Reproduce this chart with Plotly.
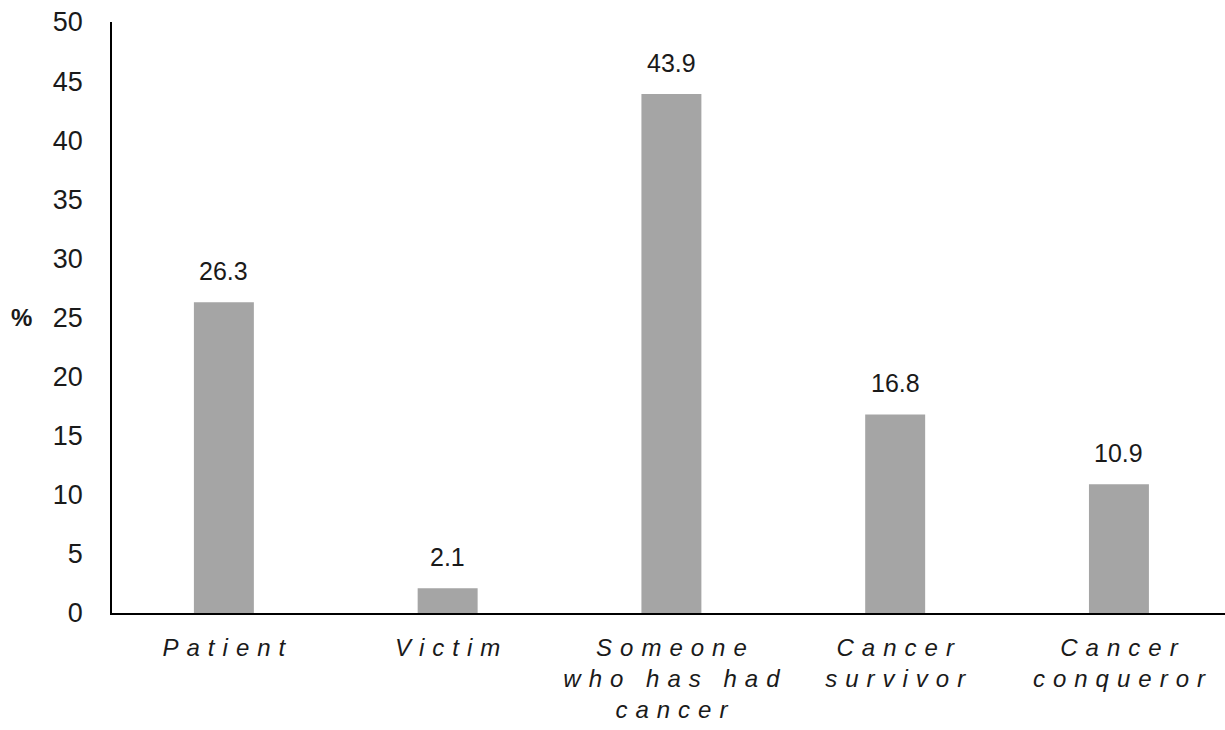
import plotly.graph_objects as go

categories = ["Patient", "Victim", "Someone<br>who has had<br>cancer", "Cancer<br>survivor", "Cancer<br>conqueror"]
values = [26.3, 2.1, 43.9, 16.8, 10.9]
y_ticks = [0, 5, 10, 15, 20, 25, 30, 35, 40, 45, 50]

LS = "\u2005\u200a"
def spaced(label):
    lines = label.split("<br>")
    out = []
    for ln in lines:
        words = ln.split(" ")
        out.append((LS + " " + LS).join(LS.join(w) for w in words))
    return "<br>".join(out)

tick_text = [spaced(c) for c in categories]
x_pos = list(range(len(categories)))

fig = go.Figure()
fig.add_trace(go.Bar(x=x_pos, y=values, marker=dict(color="#a5a5a5", line=dict(width=0)),
                     width=0.268, hoverinfo="skip"))

for xi, v in zip(x_pos, values):
    fig.add_annotation(x=xi, y=v, text=f"{v:.1f}", showarrow=False, yanchor="bottom",
                       yshift=15, font=dict(family="Liberation Sans, Arial", size=25, color="#1a1a1a"))

fig.add_annotation(xref="paper", yref="y", x=-0.081, y=25, text="<b>%</b>", showarrow=False,
                   xanchor="center", yanchor="middle",
                   font=dict(family="Liberation Sans, Arial", size=24, color="#1a1a1a"))

fig.update_layout(
    width=1225, height=730,
    margin=dict(l=112, r=0, t=22, b=117),
    plot_bgcolor="white", paper_bgcolor="white",
    showlegend=False,
)
fig.update_yaxes(range=[0, 50], tickvals=y_ticks, showgrid=False, zeroline=False,
                 showline=True, linecolor="black", linewidth=1.5, ticks="",
                 ticklabelstandoff=22,
                 tickfont=dict(family="Liberation Sans, Arial", size=27, color="#1a1a1a"))
fig.update_xaxes(range=[-0.5, 4.474], tickvals=x_pos, ticktext=tick_text, showgrid=False,
                 zeroline=False, showline=True, linecolor="black", linewidth=2, ticks="",
                 tickangle=0, ticklabelstandoff=12,
                 tickfont=dict(family="Liberation Sans, Arial", size=24, color="#1a1a1a", style="italic"))

fig.write_html("out.html")
